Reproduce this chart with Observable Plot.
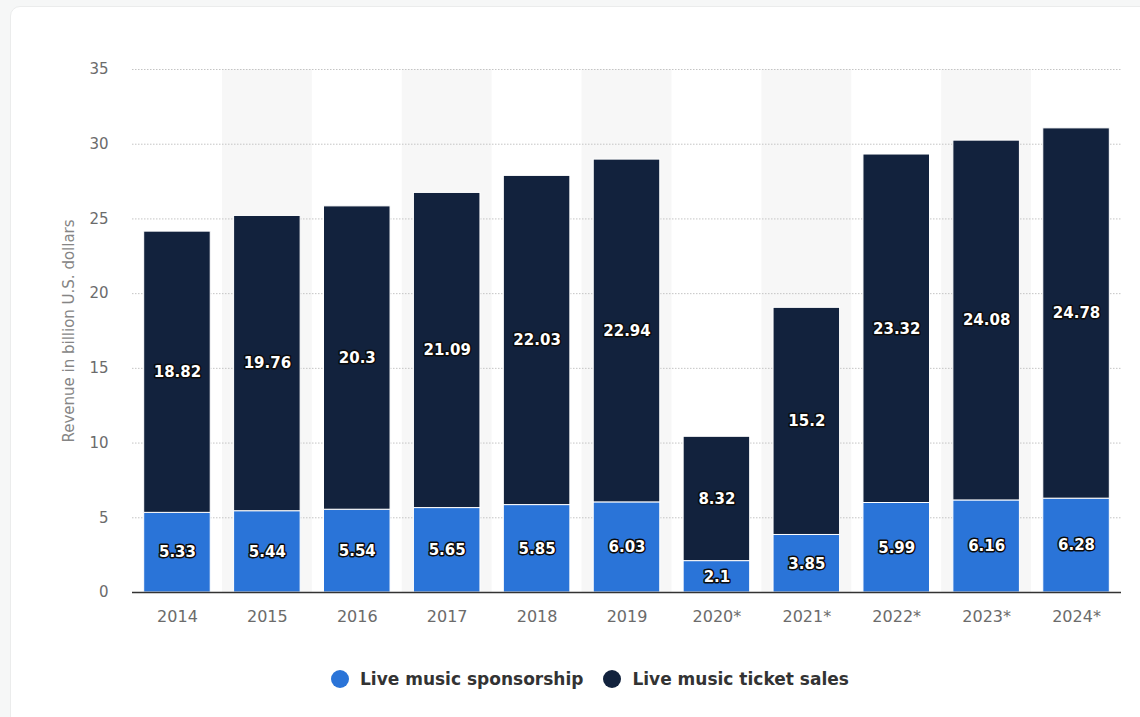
<!DOCTYPE html>
<html>
<head>
<meta charset="utf-8">
<script src="https://cdn.jsdelivr.net/npm/d3@7"></script>
<script src="https://cdn.jsdelivr.net/npm/@observablehq/plot@0.6"></script>
<style>
  html, body { margin: 0; padding: 0; background: #f6f7f7; }
  body { width: 1140px; height: 717px; overflow: hidden; position: relative; font-family: "DejaVu Sans", sans-serif; }
  #card { position: absolute; left: 10px; top: 6px; width: 1160px; height: 740px; background: #fff; border: 1px solid #ebecec; border-radius: 10px; }
  #chart { position: absolute; left: 0; top: 0; }
  #legend { position: absolute; left: 331px; top: 669px; display: flex; align-items: center; font-size: 17px; font-weight: bold; color: #333; white-space: nowrap; }
  .item { display: flex; align-items: center; margin-right: 20px; }
  .dot { width: 18px; height: 18px; border-radius: 50%; margin-right: 11px; }
</style>
</head>
<body>
<div id="card"></div>
<div id="chart"></div>
<div id="legend"></div>
<script>
const years = ["2014", "2015", "2016", "2017", "2018", "2019", "2020*", "2021*", "2022*", "2023*", "2024*"];
const sponsorship = [5.33, 5.44, 5.54, 5.65, 5.85, 6.03, 2.1, 3.85, 5.99, 6.16, 6.28];
const ticketSales = [18.82, 19.76, 20.3, 21.09, 22.03, 22.94, 8.32, 15.2, 23.32, 24.08, 24.78];
const seriesNames = ["Live music sponsorship", "Live music ticket sales"];
const seriesColors = ["#2a74d8", "#12223d"];
const yTicks = [0, 5, 10, 15, 20, 25, 30, 35];
const shadedYears = ["2015", "2017", "2019", "2021*", "2023*"];
const yLabel = "Revenue in billion U.S. dollars";

const data = [];
years.forEach((yr, i) => {
  data.push({year: yr, series: seriesNames[0], value: sponsorship[i]});
  data.push({year: yr, series: seriesNames[1], value: ticketSales[i]});
});

const font = "DejaVu Sans, sans-serif";

const chart = Plot.plot({
  width: 1140,
  height: 640,
  marginTop: 69,
  marginBottom: 48,
  marginLeft: 132,
  marginRight: 19,
  style: {fontFamily: font, background: "transparent", color: "#666"},
  x: {domain: years, paddingInner: 0.26, paddingOuter: 0.13, round: false},
  y: {domain: [0, 35]},
  color: {domain: seriesNames, range: seriesColors},
  marks: [
    Plot.barY(shadedYears, {x: d => d, y1: 0, y2: 35, fill: "#f7f7f7", insetLeft: -11.7, insetRight: -11.7}),
    Plot.gridY(yTicks.filter(t => t > 0), {stroke: "#c4c4c4", strokeOpacity: 1, strokeDasharray: "1.5,1.5", strokeWidth: 1}),
    Plot.barY(data, Plot.stackY({x: "year", y: "value", z: "series", fill: "series", stroke: "white", strokeWidth: 1})),
    Plot.ruleY([0], {stroke: "#333", strokeWidth: 1.5}),
    Plot.text(data, Plot.stackY({
      x: "year", y: "value", z: "series",
      text: d => String(d.value),
      fill: "white", stroke: "#0b0b0b", strokeWidth: 3, paintOrder: "stroke",
      fontWeight: "bold", fontSize: 15, fontFamily: font
    })),
    Plot.axisX({tickSize: 0, tickPadding: 18, fontSize: 16, label: null, color: "#6b6b6b"}),
    Plot.axisY({
      ticks: yTicks, tickSize: 0, tickPadding: 24, fontSize: 15, color: "#6b6b6b",
      label: null
    }),
    Plot.axisY({
      ticks: [], tickSize: 0, color: "#858585", fontSize: 15,
      label: yLabel, labelAnchor: "center", labelArrow: "none", labelOffset: 69
    })
  ]
});
document.getElementById("chart").appendChild(chart);

const legend = document.getElementById("legend");
seriesNames.forEach((name, i) => {
  const item = document.createElement("div");
  item.className = "item";
  const dot = document.createElement("span");
  dot.className = "dot";
  dot.style.background = seriesColors[i];
  const label = document.createElement("span");
  label.textContent = name;
  item.appendChild(dot);
  item.appendChild(label);
  legend.appendChild(item);
});
</script>
</body>
</html>
